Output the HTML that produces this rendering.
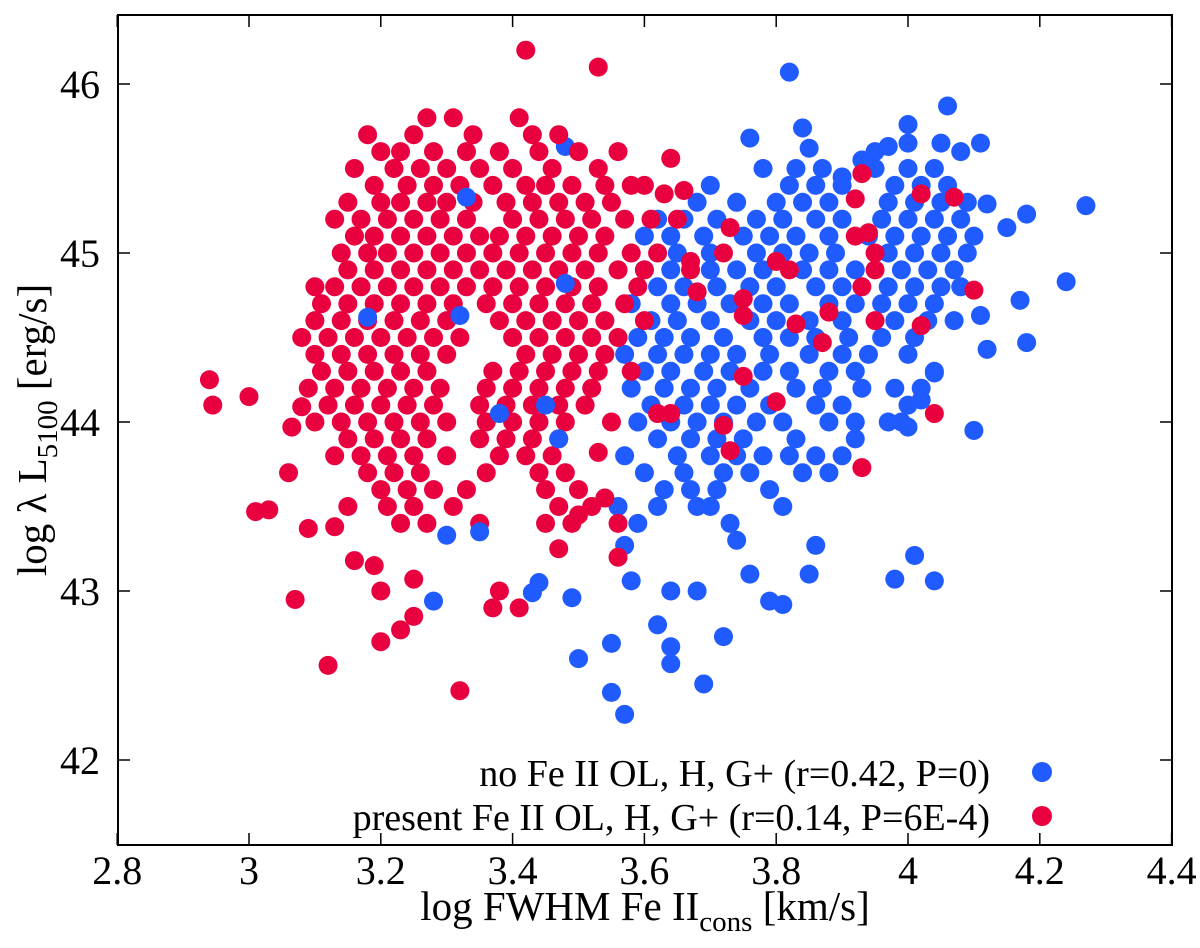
<!DOCTYPE html>
<html><head><meta charset="utf-8"><style>
html,body{margin:0;padding:0;background:#fff;}
svg text{font-family:"Liberation Serif",serif;fill:#000;}
</style></head><body>
<svg id="chart" width="1200" height="943" viewBox="0 0 1200 943" xmlns="http://www.w3.org/2000/svg">
<g id="marks"></g>
<rect x="118" y="15" width="1054" height="830" fill="none" stroke="#000" stroke-width="2"/>
<g id="axes"></g>
<text x="645" y="920" font-size="41" text-anchor="middle">log FWHM Fe II<tspan font-size="29" dy="11">cons</tspan><tspan dy="-11"> [km/s]</tspan></text>
<text transform="translate(46,430) rotate(-90)" font-size="41" text-anchor="middle">log λ L<tspan font-size="29" dy="11">5100</tspan><tspan dy="-11"> [erg/s]</tspan></text>
<g>
<text x="990" y="786" font-size="38" text-anchor="end">no Fe II OL, H, G+ (r=0.42, P=0)</text>
<circle cx="1042" cy="772" r="10" fill="#1f5bff"/>
<text x="990" y="830" font-size="38" text-anchor="end">present Fe II OL, H, G+ (r=0.14, P=6E-4)</text>
<circle cx="1042" cy="816" r="10" fill="#e8003f"/>
</g>
</svg>
<script>
const xTicks=[2.8,3,3.2,3.4,3.6,3.8,4,4.2,4.4];
const yTicks=[42,43,44,45,46];
const blueRowY=[45.5,45.4,45.3,45.2,45.1,45.0,44.9,44.8,44.7,44.6,44.5,44.4,44.3,44.2,44.1,44.0,43.9,43.8,43.7,43.6,43.5,43.4];
const blueRowX=[
[3.78,3.83,3.87,3.95,4.0,4.04],
[3.7,3.82,3.86,3.9,3.98,4.02,4.06],
[3.68,3.74,3.8,3.84,3.88,3.97,4.01,4.05,4.09],
[3.62,3.66,3.71,3.77,3.81,3.86,3.9,3.96,4.0,4.04,4.08],
[3.6,3.64,3.69,3.75,3.79,3.83,3.88,3.94,3.98,4.02,4.06,4.1],
[3.65,3.7,3.77,3.81,3.85,3.89,3.97,4.01,4.05,4.09],
[3.6,3.64,3.7,3.74,3.78,3.84,3.88,3.92,3.99,4.03,4.07],
[3.62,3.66,3.71,3.76,3.8,3.86,3.9,3.97,4.01,4.05,4.08],
[3.58,3.64,3.68,3.73,3.78,3.82,3.88,3.92,3.96,4.0,4.04],
[3.61,3.65,3.7,3.76,3.8,3.85,3.9,3.98,4.03,4.07],
[3.59,3.63,3.67,3.72,3.78,3.82,3.86,3.91,3.96,4.01],
[3.57,3.62,3.66,3.7,3.74,3.79,3.85,3.9,3.94,4.0],
[3.6,3.64,3.69,3.73,3.78,3.82,3.88,3.92,4.04],
[3.58,3.63,3.67,3.71,3.76,3.83,3.87,3.93,3.98,4.02],
[3.61,3.66,3.7,3.74,3.79,3.86,3.9,4.0],
[3.59,3.64,3.68,3.72,3.77,3.81,3.88,3.92,3.99],
[3.62,3.67,3.71,3.75,3.83,3.92],
[3.57,3.65,3.7,3.74,3.78,3.82,3.86,3.9],
[3.6,3.66,3.72,3.76,3.84,3.88],
[3.63,3.67,3.71,3.79],
[3.56,3.62,3.68,3.81],
[3.59,3.73]];
const blueExtra=[[3.82,46.07],[4.24,44.83],[4.27,45.28],[4.18,45.23],[4.17,44.72],[4.18,44.47],[4.15,45.15],[4.12,45.29],[4.11,44.63],[4.12,44.43],[4.1,43.95],[4.04,43.06],[4.01,43.21],[3.98,43.07],[3.57,42.27],[3.55,42.4],[3.55,42.69],[3.5,42.6],[3.49,42.96],[3.69,42.45],[3.64,42.57],[3.64,42.67],[3.62,42.8],[3.57,43.27],[3.58,43.06],[3.64,43.0],[3.68,43.0],[3.72,42.73],[3.79,42.94],[3.81,42.92],[3.86,43.27],[3.85,43.1],[3.76,43.1],[3.74,43.3],[3.7,43.5],[3.28,42.94],[3.44,43.05],[3.43,42.99],[3.48,45.63],[4.06,45.87],[4.0,45.76],[3.76,45.68],[3.84,45.74],[3.85,45.62],[3.9,45.45],[3.93,45.55],[3.95,45.6],[3.97,45.63],[4.0,45.65],[4.05,45.65],[4.08,45.6],[4.11,45.65],[4.04,44.29],[4.02,44.13],[4.0,43.97],[3.97,44.0]];
const redRowY=[45.8,45.7,45.6,45.5,45.4,45.3,45.2,45.1,45.0,44.9,44.8,44.7,44.6,44.5,44.4,44.3,44.2,44.1,44.0,43.9,43.8,43.7,43.6,43.5,43.4];
const redRowX=[
[3.27,3.31,3.41],
[3.18,3.25,3.34,3.43,3.47],
[3.2,3.23,3.28,3.33,3.38,3.44,3.5,3.56],
[3.16,3.22,3.26,3.3,3.35,3.4,3.46,3.53],
[3.19,3.24,3.28,3.32,3.37,3.42,3.45,3.49,3.54,3.58],
[3.15,3.2,3.23,3.27,3.3,3.34,3.39,3.43,3.47,3.51,3.55],
[3.13,3.17,3.21,3.25,3.29,3.33,3.4,3.44,3.48,3.52,3.57,3.61],
[3.16,3.19,3.23,3.27,3.31,3.35,3.38,3.42,3.46,3.5,3.54],
[3.14,3.18,3.21,3.25,3.29,3.33,3.37,3.41,3.45,3.49,3.53,3.58,3.62],
[3.15,3.19,3.23,3.27,3.31,3.35,3.39,3.43,3.47,3.51,3.56,3.6],
[3.1,3.13,3.17,3.21,3.25,3.29,3.33,3.37,3.41,3.45,3.49,3.53,3.59],
[3.11,3.15,3.19,3.23,3.27,3.31,3.36,3.4,3.44,3.48,3.52,3.57],
[3.1,3.14,3.18,3.22,3.26,3.3,3.38,3.42,3.46,3.5,3.54,3.6],
[3.08,3.12,3.16,3.2,3.24,3.28,3.32,3.4,3.44,3.48,3.52,3.56],
[3.1,3.14,3.18,3.22,3.26,3.3,3.42,3.46,3.5,3.54],
[3.11,3.15,3.19,3.23,3.27,3.37,3.41,3.45,3.49,3.53,3.58],
[3.09,3.13,3.17,3.21,3.25,3.29,3.36,3.4,3.44,3.48,3.52],
[3.12,3.16,3.2,3.24,3.28,3.35,3.39,3.43,3.47,3.51],
[3.1,3.14,3.18,3.22,3.26,3.3,3.36,3.4,3.44,3.48,3.55],
[3.15,3.19,3.23,3.27,3.35,3.39,3.43,3.47],
[3.13,3.17,3.21,3.25,3.3,3.38,3.42,3.46],
[3.18,3.22,3.26,3.36,3.44,3.48],
[3.2,3.24,3.28,3.33,3.45,3.5],
[3.15,3.21,3.25,3.31,3.47,3.52],
[3.23,3.27,3.35,3.45,3.49]];
const redExtra=[[2.94,44.25],[2.945,44.1],[3.0,44.15],[3.01,43.47],[3.03,43.48],[3.07,42.95],[3.12,42.56],[3.32,42.41],[3.42,46.2],[3.53,46.1],[3.2,42.7],[3.23,42.77],[3.16,43.18],[3.2,43.0],[3.065,43.97],[3.08,44.09],[3.06,43.7],[3.09,43.37],[3.13,43.38],[3.19,43.15],[3.25,42.85],[3.25,43.07],[3.37,42.9],[3.41,42.9],[3.38,43.0],[3.47,43.25],[3.5,43.45],[3.56,43.4],[3.56,43.2],[3.53,43.82],[3.54,43.55],[3.62,44.05],[3.64,44.05],[3.72,43.98],[3.73,43.83],[3.75,44.27],[3.8,44.12],[3.75,44.63],[3.75,44.73],[3.82,44.9],[3.8,44.95],[3.83,44.58],[3.87,44.47],[3.88,44.65],[3.93,43.73],[3.92,45.1],[3.93,44.8],[3.95,44.6],[3.95,44.9],[3.95,45.0],[3.94,45.12],[3.93,45.47],[3.92,45.32],[4.02,45.35],[4.07,45.33],[4.02,44.57],[4.04,44.05],[4.1,44.78],[3.73,45.15],[3.72,45.0],[3.67,44.95],[3.66,45.37],[3.64,45.56],[3.65,45.2],[3.6,45.4],[3.63,45.35],[3.68,44.77],[3.67,44.9]];
const blueTop=[[3.33,45.33],[3.32,44.63],[3.45,44.1],[3.47,43.9],[3.38,44.05],[3.3,43.33],[3.35,43.35],[3.18,44.62],[3.48,44.82]];

const NS="http://www.w3.org/2000/svg";
const X0=118,X1=1172,Y0=15,Y1=845;
function sx(v){return 249+(v-3)*659;}
function sy(v){return 84+(46-v)*169;}
const marks=document.getElementById('marks');
const axes=document.getElementById('axes');
function dot(x,y,color,name){
  const c=document.createElementNS(NS,'circle');
  c.setAttribute('cx',sx(x));c.setAttribute('cy',sy(y));c.setAttribute('r',9.5);c.setAttribute('fill',color);
  
  
  marks.appendChild(c);
}
const BLUE="#1f5bff",RED="#e8003f";
blueRowY.forEach((y,i)=>blueRowX[i].forEach(x=>dot(x,y,BLUE,'blue-point')));
blueExtra.forEach(p=>dot(p[0],p[1],BLUE,'blue-point'));
redRowY.forEach((y,i)=>redRowX[i].forEach(x=>dot(x,y,RED,'red-point')));
redExtra.forEach(p=>dot(p[0],p[1],RED,'red-point'));
blueTop.forEach(p=>dot(p[0],p[1],BLUE,'blue-point'));
function line(x1,y1,x2,y2){const l=document.createElementNS(NS,'line');l.setAttribute('x1',x1);l.setAttribute('y1',y1);l.setAttribute('x2',x2);l.setAttribute('y2',y2);l.setAttribute('stroke','#000');l.setAttribute('stroke-width',1.5);
  
  
  axes.appendChild(l);}
function txt(x,y,s,anchor,name){const t=document.createElementNS(NS,'text');t.setAttribute('x',x);t.setAttribute('y',y);t.setAttribute('font-size',40);t.setAttribute('text-anchor',anchor);t.textContent=s;
  
  
  axes.appendChild(t);}
xTicks.forEach(v=>{const x=sx(v);line(x,Y1,x,Y1-12);line(x,Y0,x,Y0+12);txt(x,884,String(v),'middle','x-tick-label');});
yTicks.forEach(v=>{const y=sy(v);line(X0,y,X0+12,y);line(X1,y,X1-12,y);txt(100,y+14,String(v),'end','y-tick-label');});
</script>
</body></html>
